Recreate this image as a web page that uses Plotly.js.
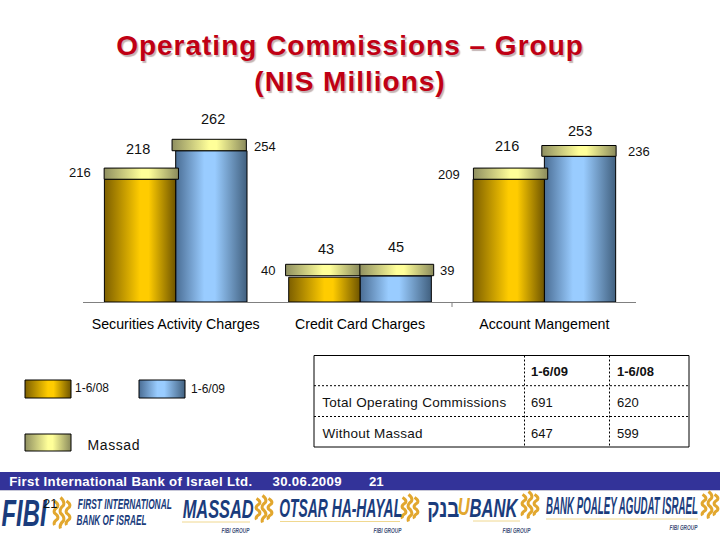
<!DOCTYPE html>
<html>
<head>
<meta charset="utf-8">
<script src="https://cdn.plot.ly/plotly-3.0.1.min.js"></script>
<style>html,body{margin:0;padding:0;background:#fff}#chart{width:720px;height:540px}</style>
</head>
<body>
<div id="chart"></div>
<script>
// ---- data ----
var categories = ['Securities Activity Charges', 'Credit Card Charges', 'Account Mangement'];
// printed labels
var labelsSide08 = [216, 40, 209];
var labelsSide09 = [254, 39, 236];
var totals08 = [218, 43, 216];
var totals09 = [262, 45, 253];
// bar heights as drawn in the picture (axis units), caps sit on top of the bars
var bars08 = [198, 40, 198];
var bars09 = [244, 42, 235];
var capBase08 = [198, 42.4, 198];
var capBase09 = [244, 42.4, 235];
var capHeight08 = [18, 18.4, 18];
var capHeight09 = [18.4, 18.4, 17.4];
var seriesNames = ['1-6/08', '1-6/09', 'Massad'];
// table
var tableHeader = ['1-6/09', '1-6/08'];
var tableRows = ['Total Operating Commissions', 'Without Massad'];
var table09 = [691, 647];
var table08 = [620, 599];

// ---- layout helpers ----
var L = 83, R = 636, T = 105, B = 302;
function px(x) { return (x - L) / (R - L); }
function py(y) { return (B - y) / (B - T); }
var FONT = 'Liberation Sans, Arial, sans-serif';
var NAVY = '#1a3c7c';
var fits = {};
function txt(t, x, y, size, opt) {
  opt = opt || {};
  var anchor = opt.anchor || 'center';
  var xx = x;
  if (opt.fit) {
    fits[t] = { w: opt.fit, adj: opt.adj || 'spacing' };
    xx = x + opt.fit / 2; anchor = 'center';
  } else if (anchor === 'left') {
    xx = x - 2;
  }
  return {
    text: t, x: px(xx), y: py(y), xref: 'paper', yref: 'paper', showarrow: false,
    xanchor: anchor, yanchor: 'middle',
    font: { family: FONT, size: size, color: opt.color || '#111', weight: opt.weight || 'normal', style: opt.style || 'normal' }
  };
}
function rect(x0, y0, x1, y1, fill, line) {
  return {
    type: 'rect', xref: 'paper', yref: 'paper', x0: px(x0), x1: px(x1), y0: py(y0), y1: py(y1),
    fillcolor: fill || 'rgba(0,0,0,0)', line: line || { width: 0 }, layer: 'above'
  };
}
function seg(x0, y0, x1, y1, line) {
  return { type: 'line', xref: 'paper', yref: 'paper', x0: px(x0), x1: px(x1), y0: py(y0), y1: py(y1), line: line, layer: 'above' };
}
function swirl(cx, cy, h) {
  var out = [];
  [-6, 0, 6].forEach(function (dx, k) {
    var hh = k === 1 ? h : h * 0.78, n = 4, d = '';
    for (var i = 0; i <= n; i++) {
      var xx = px(cx + dx + (i % 2 ? 1.5 : -1.5));
      var yy = py(cy - hh / 2 + hh * i / n);
      if (i === 0) d = 'M' + xx + ',' + yy;
      else {
        var qx = px(cx + dx + (i % 2 ? 3 : -3));
        var qy = py(cy - hh / 2 + hh * (i - 0.5) / n);
        d += ' Q' + qx + ',' + qy + ' ' + xx + ',' + yy;
      }
    }
    out.push({ type: 'path', xref: 'paper', yref: 'paper', path: d, fillcolor: 'rgba(0,0,0,0)', line: { color: '#e2a72e', width: 3 }, layer: 'above' });
  });
  return out;
}

// ---- bars ----
var slot = 184.33;
var barWidth = 71.3 / slot;
var capW = 74.3 / slot;
var xRange = [(L - 175.7) / slot, (R - 175.7) / slot];
var capOff08 = [-34.4, -37.3, -33.8];
var capOff09 = [33.5, 36.5, 34.6];
function barTrace(name, xs, ys, color, base) {
  var t = { name: name, type: 'bar', x: xs, y: ys, width: base ? capW : barWidth, marker: { color: color, line: { color: '#000', width: 1 } }, hoverinfo: 'skip' };
  if (base) t.base = base;
  return t;
}
var idx = [0, 1, 2];
var gold = barTrace(seriesNames[0], idx.map(function (i) { return i - barWidth / 2; }), bars08, '#ffcc00');
var blue = barTrace(seriesNames[1], idx.map(function (i) { return i + barWidth / 2; }), bars09, '#99ccff');
var cap08 = barTrace(seriesNames[2], idx.map(function (i) { return i + capOff08[i] / slot; }), capHeight08, '#ffff99', capBase08);
var cap09 = barTrace(seriesNames[2], idx.map(function (i) { return i + capOff09[i] / slot; }), capHeight09, '#ffff99', capBase09);

// ---- texts ----
var annotations = [];
var side08Pos = [[80, 172], [268, 270], [449, 174]];
var side09Pos = [[265, 146], [447, 270], [639, 151]];
var top08Pos = [[138, 149], [326, 249], [507, 146]];
var top09Pos = [[213, 119], [396, 247], [580, 131]];
labelsSide08.forEach(function (v, i) { annotations.push(txt(String(v), side08Pos[i][0], side08Pos[i][1], 13)); });
labelsSide09.forEach(function (v, i) { annotations.push(txt(String(v), side09Pos[i][0], side09Pos[i][1], 13)); });
totals08.forEach(function (v, i) { annotations.push(txt(String(v), top08Pos[i][0], top08Pos[i][1], 14.5)); });
totals09.forEach(function (v, i) { annotations.push(txt(String(v), top09Pos[i][0], top09Pos[i][1], 14.5)); });

annotations.push(txt(seriesNames[0], 75, 388, 12, { anchor: 'left' }));
annotations.push(txt(seriesNames[1], 191, 389, 12, { anchor: 'left' }));
annotations.push(txt(seriesNames[2], 87, 445, 14, { fit: 52 }));

annotations.push(txt(tableHeader[0], 531, 371, 13, { anchor: 'left', weight: 'bold' }));
annotations.push(txt(tableHeader[1], 617, 371, 13, { anchor: 'left', weight: 'bold' }));
var rowY = [402, 433];
var rowFit = [184, 100];
tableRows.forEach(function (r, i) {
  annotations.push(txt(r, 322, rowY[i], 13.5, { fit: rowFit[i] }));
  annotations.push(txt(String(table09[i]), 531, rowY[i], 13, { anchor: 'left' }));
  annotations.push(txt(String(table08[i]), 617, rowY[i], 13, { anchor: 'left' }));
});

annotations.push(txt('First International Bank of Israel Ltd.', 9, 481, 13.2, { fit: 243, weight: 'bold', color: '#fff' }));
annotations.push(txt('30.06.2009', 272, 481, 13.2, { fit: 69, weight: 'bold', color: '#fff' }));
annotations.push(txt('21', 369, 481, 13.2, { anchor: 'left', weight: 'bold', color: '#fff' }));

function lg(t, x, y, size, w, color) {
  return txt(t, x, y, size, { weight: 'bold', style: 'italic', color: color || NAVY, fit: w, adj: 'squeeze' });
}
annotations.push(lg('FIBI', 2, 513, 37, 45));
annotations.push(lg('FIRST INTERNATIONAL', 78, 504, 14, 94));
annotations.push(lg('BANK OF ISRAEL', 76, 520, 14, 70));
annotations.push(lg('MASSAD', 182, 509, 25, 71));
annotations.push(lg('OTSAR HA-HAYAL', 279, 508, 25, 123));
annotations.push(txt('בנק', 427, 508, 25, { weight: 'bold', color: NAVY, fit: 32, adj: 'squeeze' }));
annotations.push(lg('U', 458, 506, 24, 12, '#e2a72e'));
annotations.push(lg('BANK', 470, 508, 25, 48));
annotations.push(lg('BANK POALEY AGUDAT ISRAEL', 546, 506, 23, 152));
var groupX = [221, 373, 502, 669];
var groupY = [530, 530, 530, 527];
groupX.forEach(function (x, i) { annotations.push(lg('FIBI GROUP', x, groupY[i], 8, 28, '#44527a')); });
annotations.push(txt('21', 43, 504, 13, { anchor: 'left', color: '#111' }));

// ---- shapes ----
var thinDot = { color: '#000', width: 1, dash: '2px,2px' };
var shapes = [
  rect(25, 380, 71, 398, '#ffcc00', { color: '#000', width: 1 }),
  rect(139, 380, 185, 398, '#99ccff', { color: '#000', width: 1 }),
  rect(25, 434, 71, 451, '#ffff99', { color: '#000', width: 1 }),
  seg(452, 302, 452, 307, { color: '#808080', width: 1 }),
  rect(314, 355.5, 689, 447, null, { color: '#000', width: 1 }),
  seg(314, 385.7, 689, 385.7, thinDot),
  seg(314, 416.5, 689, 416.5, thinDot),
  seg(524.5, 355.5, 524.5, 447, thinDot),
  seg(609.5, 355.5, 609.5, 447, thinDot),
  rect(0, 472, 720, 490, '#333399'),
  seg(0, 490.5, 720, 490.5, { color: '#c8c8d8', width: 1 }),
  seg(182, 522, 250, 522, { color: '#f0d890', width: 1 }),
  seg(280, 521.5, 400, 521.5, { color: '#f0d890', width: 1 }),
  seg(473, 521, 520, 521, { color: '#f0d890', width: 1 }),
  seg(546, 519, 698, 519, { color: '#f0d890', width: 1 })
].concat(swirl(62, 513, 31), swirl(264, 509, 27), swirl(410, 508, 27), swirl(530, 505, 27), swirl(710, 505, 27));

var layout = {
  width: 720, height: 540,
  margin: { l: L, r: 720 - R, t: T, b: 540 - B, pad: 0 },
  paper_bgcolor: '#fff', plot_bgcolor: 'rgba(0,0,0,0)',
  showlegend: false, barmode: 'overlay', bargap: 0,
  title: {
    text: 'Operating Commissions – Group<br>(NIS Millions)',
    x: 350 / 720, xref: 'container', xanchor: 'center',
    y: 1 - 55 / 540, yref: 'container', yanchor: 'middle',
    font: { family: FONT, size: 28, weight: 'bold', color: '#c00014', shadow: '1.5px 1.5px 1px #c4b4b4' }
  },
  xaxis: {
    range: xRange, tickvals: idx, ticktext: categories, ticks: 'outside', ticklen: 9,
    tickcolor: 'rgba(0,0,0,0)', showgrid: false, zeroline: false, showline: true, linecolor: '#808080', linewidth: 1,
    tickfont: { family: FONT, size: 14.2, color: '#000' }, fixedrange: true
  },
  yaxis: { range: [0, (B - T) / 0.62], visible: false, fixedrange: true },
  annotations: annotations, shapes: shapes
};

function decorate(gd) {
  var NS = 'http://www.w3.org/2000/svg';
  var defs = gd.querySelector('.main-svg defs');
  var grads = {
    g08: [['0', '#7d5f00'], ['0.5', '#ffcc00'], ['0.62', '#ffcc00'], ['1', '#6f5500']],
    g09: [['0', '#4a6d94'], ['0.4', '#99ccff'], ['0.55', '#99ccff'], ['1', '#41607f']],
    gCap: [['0', '#8f8f60'], ['0.5', '#ffff99'], ['0.6', '#ffff99'], ['1', '#8a8a5c']]
  };
  Object.keys(grads).forEach(function (id) {
    var g = document.createElementNS(NS, 'linearGradient');
    g.setAttribute('id', id); g.setAttribute('x1', '0'); g.setAttribute('x2', '1'); g.setAttribute('y1', '0'); g.setAttribute('y2', '0');
    grads[id].forEach(function (s) {
      var st = document.createElementNS(NS, 'stop');
      st.setAttribute('offset', s[0]); st.setAttribute('stop-color', s[1]);
      g.appendChild(st);
    });
    defs.appendChild(g);
  });
  // trace order: blue, gold, cap09, cap08
  var ids = ['g09', 'g08', 'gCap', 'gCap'];
  gd.querySelectorAll('.barlayer .trace').forEach(function (t, i) {
    t.querySelectorAll('.point path').forEach(function (p) { p.style.fill = 'url(#' + ids[i] + ')'; });
  });
  var swatch = ['g08', 'g09', 'gCap'];
  gd.querySelectorAll('.shapelayer path[data-index]').forEach(function (p) {
    var k = +p.getAttribute('data-index');
    if (k < 3) p.style.fill = 'url(#' + swatch[k] + ')';
  });
  // horizontal text fitting: letter spacing for body text, a horizontal squeeze for logo lettering
  gd.querySelectorAll('.annotation-text').forEach(function (el) {
    var f = fits[el.textContent];
    if (!f) return;
    if (f.adj === 'squeeze') {
      var b = el.getBBox();
      var cx = b.x + b.width / 2;
      var sx = f.w / el.getComputedTextLength();
      el.setAttribute('transform', 'translate(' + cx + ',0) scale(' + sx + ',1) translate(' + (-cx) + ',0)');
    } else {
      el.setAttribute('textLength', f.w);
      el.setAttribute('lengthAdjust', 'spacing');
    }
  });
  var title = gd.querySelector('.gtitle');
  if (title) title.style.letterSpacing = '1px';
}
Plotly.newPlot('chart', [blue, gold, cap09, cap08], layout, { displayModeBar: false, staticPlot: true }).then(decorate);
</script>
</body>
</html>
